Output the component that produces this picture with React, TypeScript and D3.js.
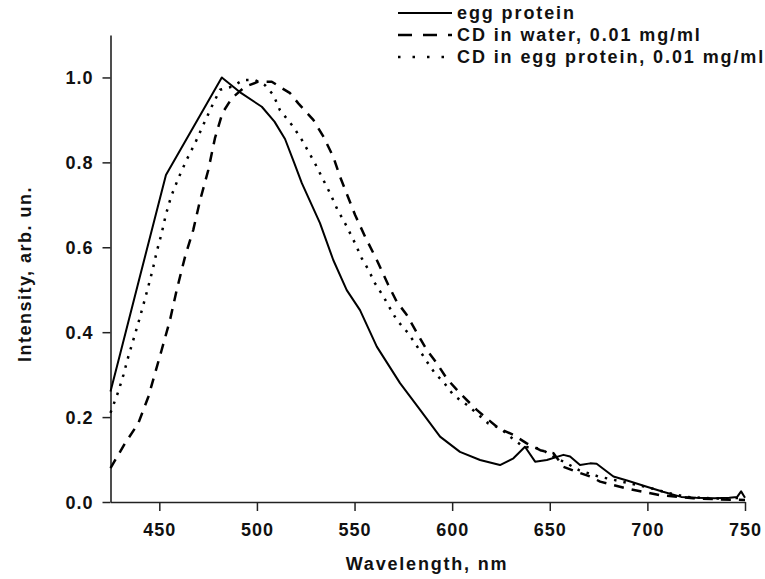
import React, { useRef, useEffect } from 'react';
import * as d3 from 'd3';

// egg protein (solid)
const eggWl = [425, 430, 440, 453.4, 482, 492, 502.5, 509, 514.4, 519, 523, 532.3, 539.1, 546, 552.8, 561.4, 573.3, 583.6, 593.8, 604, 614.3, 624.5, 631.4, 637.3, 642.5, 648.5, 657, 660.4, 665.5, 670.7, 674, 682.6, 690, 699.7, 708, 717.3, 725, 734.3, 742, 746, 748, 750];
const eggInt = [0.26, 0.35, 0.53, 0.77, 1.0, 0.963, 0.931, 0.896, 0.855, 0.8, 0.751, 0.657, 0.57, 0.499, 0.452, 0.366, 0.28, 0.217, 0.154, 0.118, 0.099, 0.087, 0.103, 0.13, 0.095, 0.099, 0.111, 0.107, 0.087, 0.091, 0.09, 0.06, 0.05, 0.036, 0.024, 0.012, 0.01, 0.009, 0.01, 0.012, 0.025, 0.01];

// CD in water, 0.01 mg/ml (dashed)
const waterWl = [425, 432.4, 439.2, 444.4, 447.8, 451.2, 455.5, 458.9, 463.2, 467.4, 470.9, 475.1, 478.5, 482.3, 487.1, 493.9, 500.7, 507.6, 512.7, 517, 521.2, 528.9, 534, 539.1, 542.6, 550.3, 555.4, 561.4, 567.3, 571.6, 576.7, 581.9, 587, 592.1, 597.2, 604, 612.6, 617.7, 623.7, 631.4, 638.2, 645.1, 651.9, 657, 663.8, 670.7, 675.8, 689.4, 706.5, 723.6, 737, 750];
const waterInt = [0.08, 0.138, 0.185, 0.248, 0.303, 0.358, 0.429, 0.499, 0.578, 0.641, 0.711, 0.782, 0.857, 0.916, 0.951, 0.978, 0.99, 0.99, 0.975, 0.963, 0.939, 0.9, 0.861, 0.813, 0.766, 0.676, 0.625, 0.57, 0.511, 0.472, 0.441, 0.399, 0.358, 0.327, 0.291, 0.256, 0.217, 0.197, 0.174, 0.158, 0.138, 0.122, 0.115, 0.083, 0.071, 0.06, 0.048, 0.032, 0.016, 0.009, 0.006, 0.005];

// CD in egg protein, 0.01 mg/ml (dotted)
const cdEggWl = [425, 429, 431.6, 434.1, 436.7, 439.2, 441.8, 444.1, 446.6, 448.7, 451.2, 453.3, 456, 459.7, 464, 468.3, 472.5, 476.8, 481.1, 487.1, 493, 499, 504.1, 508.4, 511.8, 518.6, 523, 529.7, 533.2, 537.5, 540.9, 546, 550.3, 553.7, 557.1, 560.5, 564.8, 568.2, 571.6, 577.6, 582.7, 587, 591.2, 595.5, 600.6, 607.5, 612.6, 618.5, 624.5, 629.7, 636.5, 645.1, 651.9, 658.7, 665, 675, 690, 700, 710, 720, 735, 750];
const cdEggInt = [0.21, 0.26, 0.299, 0.342, 0.382, 0.421, 0.464, 0.503, 0.547, 0.59, 0.633, 0.676, 0.719, 0.762, 0.806, 0.845, 0.888, 0.931, 0.971, 0.978, 0.994, 0.994, 0.982, 0.959, 0.923, 0.884, 0.853, 0.798, 0.766, 0.727, 0.692, 0.649, 0.609, 0.574, 0.547, 0.515, 0.484, 0.456, 0.429, 0.397, 0.362, 0.331, 0.303, 0.283, 0.252, 0.229, 0.209, 0.185, 0.174, 0.154, 0.13, 0.126, 0.107, 0.091, 0.075, 0.06, 0.045, 0.035, 0.022, 0.012, 0.008, 0.01];

const xTicks = [450, 500, 550, 600, 650, 700, 750];
const yTicks = [0.0, 0.2, 0.4, 0.6, 0.8, 1.0];

const series = [
  { name: 'egg protein', wl: eggWl, val: eggInt, dash: null, width: 2 },
  { name: 'CD in water, 0.01 mg/ml', wl: waterWl, val: waterInt, dash: '10,8', width: 2.5 },
  { name: 'CD in egg protein, 0.01 mg/ml', wl: cdEggWl, val: cdEggInt, dash: '2.5,7', width: 2.5 },
];

const App = () => {
  const svgRef = useRef<SVGSVGElement>(null);

  useEffect(() => {
    const svg = d3.select(svgRef.current);
    svg.selectAll('*').remove();

    const x = d3.scaleLinear().domain([425, 750]).range([110.5, 745]);
    const y = d3.scaleLinear().domain([0, 1.1]).range([502, 35]);
    const font = "'Liberation Sans', Arial, sans-serif";

    // axes
    const xAxis = svg.append('g')
      .attr('transform', 'translate(0,502)')
      .call(d3.axisBottom(x).tickValues(xTicks).tickSize(9).tickSizeOuter(0).tickFormat(d3.format('d')));
    const yAxis = svg.append('g')
      .attr('transform', 'translate(110.5,0)')
      .call(d3.axisLeft(y).tickValues(yTicks).tickSize(8).tickSizeOuter(0).tickFormat(d3.format('.1f')));

    [xAxis, yAxis].forEach(ax => {
      ax.select('.domain').attr('stroke', '#222').attr('stroke-width', 1.6);
      ax.selectAll('.tick line').attr('stroke', '#222').attr('stroke-width', 1.5);
      ax.selectAll('.tick text')
        .attr('fill', '#111')
        .style('font-family', font)
        .style('font-weight', 'bold')
        .style('font-size', '18px')
        .style('letter-spacing', '1px');
    });
    xAxis.selectAll('.tick text').attr('dy', '1.2em');
    yAxis.selectAll('.tick text').attr('x', -17).attr('dy', '0.36em');

    // axis titles
    svg.append('text')
      .attr('x', 427).attr('y', 570)
      .attr('text-anchor', 'middle')
      .style('font-family', font).style('font-weight', 'bold').style('font-size', '18px')
      .style('letter-spacing', '1.8px').attr('fill', '#111')
      .text('Wavelength, nm');
    svg.append('text')
      .attr('transform', 'translate(31,274) rotate(-90)')
      .attr('text-anchor', 'middle')
      .style('font-family', font).style('font-weight', 'bold').style('font-size', '18px')
      .style('letter-spacing', '1.5px').attr('fill', '#111')
      .text('Intensity, arb. un.');

    // curves
    const line = d3.line<[number, number]>()
      .x(d => x(d[0]))
      .y(d => y(d[1]));

    series.forEach(s => {
      const pts = s.wl.map((w, i) => [w, s.val[i]] as [number, number]);
      svg.append('path')
        .attr('d', line(pts))
        .attr('fill', 'none')
        .attr('stroke', '#000')
        .attr('stroke-width', s.width)
        .attr('stroke-dasharray', s.dash)
        .attr('stroke-linejoin', 'round');
    });

    // legend
    const legend = svg.append('g');
    series.forEach((s, i) => {
      const ly = 13 + i * 22;
      legend.append('line')
        .attr('x1', 398).attr('x2', 452)
        .attr('y1', ly).attr('y2', ly)
        .attr('stroke', '#000')
        .attr('stroke-width', s.width)
        .attr('stroke-dasharray', s.dash ? (i === 1 ? '14,11' : '2.5,12') : null);
      legend.append('text')
        .attr('x', 457).attr('y', ly)
        .attr('dy', '0.35em')
        .style('font-family', font).style('font-weight', 'bold').style('font-size', '18px')
        .style('letter-spacing', '1.9px').attr('fill', '#111')
        .text(s.name);
    });
  }, []);

  return (
    <svg ref={svgRef} width={765} height={579} style={{ display: 'block', position: 'absolute', left: 0, top: 0, background: '#fff' }}></svg>
  );
};

export default App;
